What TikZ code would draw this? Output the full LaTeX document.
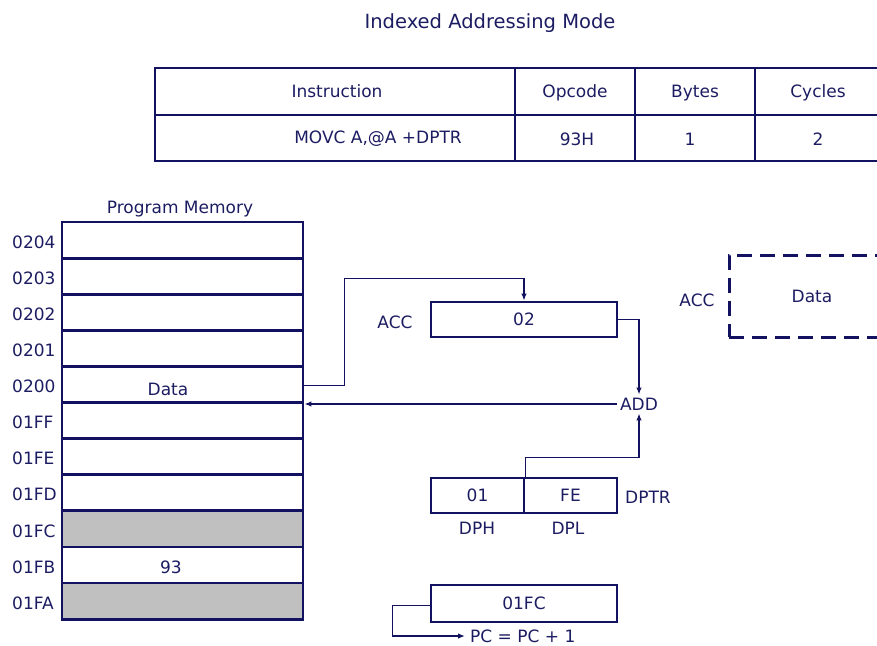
\documentclass[tikz,border=0pt]{standalone}
\usepackage{fontspec}
\setmainfont{DejaVu Sans}
\usetikzlibrary{arrows.meta,calc}
\definecolor{navy}{RGB}{18,18,96}
\definecolor{txt}{RGB}{28,28,98}
\definecolor{cellgray}{RGB}{192,192,192}
\begin{document}
\begin{tikzpicture}[x=1pt,y=-1pt,
  every node/.style={font=\fontsize{17}{20}\selectfont, text=txt, inner sep=0pt, text height=12.4pt, text depth=0pt},
  memcell/.style={draw=navy, line width=2.8pt, minimum width=241pt, minimum height=36.1pt},
  regbox/.style={draw=navy, line width=2.8pt, minimum height=35pt},
  tbl/.style={draw=navy, line width=2.8pt},
  conn/.style={draw=navy, line width=1.4pt, -{Latex[length=7pt,width=5.5pt]}}
]
\useasboundingbox (0,0) rectangle (877,645);
\clip (0,0) rectangle (877,645);

% title and table
\node (title) at (490,22) {\fontsize{19.5}{22}\selectfont Indexed Addressing Mode};
\draw[tbl] (155,68) rectangle (885,161);
\draw[tbl] (155,115) -- (885,115);
\foreach \xx in {515,635,755} \draw[tbl] (\xx,68) -- (\xx,161);
\node (hins) at (337,91) {Instruction};
\node (hop) at (575,91) {Opcode};
\node (hby) at (695,91) {Bytes};
\node (hcy) at (818,91) {Cycles};
\node (vins) at (378,137) {MOVC A,@A +DPTR};
\node (vop) at (577,139) {93H};
\node (vby) at (690,139) {1};
\node (vcy) at (818,139) {2};

% program memory
\node (pmtitle) at (180,207) {Program Memory};
\foreach \lab/\col [count=\i from 0] in {0204/white,0203/white,0202/white,0201/white,0200/white,01FF/white,01FE/white,01FD/white,01FC/cellgray,01FB/white,01FA/cellgray}{
  \pgfmathsetmacro\yc{222+36.1*(\i+0.5)}
  \node[memcell, fill=\col] (m\i) at (182.5,\yc) {};
  \node[anchor=west] (a\i) at (12,\yc+2) {\lab};
}
\node (dtext) at (168,389) {Data};
\node (t93) at (171,567) {93};

% ACC
\node[regbox, minimum width=186pt] (acc) at (524,319.5) {02};
\node (acclab) at (395,322) {ACC};
\node[inner sep=3pt] (add) at (639,404) {ADD};

% DPTR
\node[regbox, minimum width=93pt] (dph) at (477.5,495.5) {01};
\node[regbox, minimum width=93pt] (dpl) at (570.5,495.5) {FE};
\node[anchor=west] (dptr) at (625,497) {DPTR};
\node (dphlab) at (477,528) {DPH};
\node (dpllab) at (568,528) {DPL};

% PC
\node[regbox, minimum width=186pt, minimum height=37pt] (pc) at (524,603.5) {01FC};
\node[anchor=west] (pceq) at (470,636) {PC = PC + 1};

% result ACC
\node (acclab2) at (697,300) {ACC};
\node[draw=navy, line width=3pt, dash pattern=on 15pt off 8pt, minimum width=166pt, minimum height=82pt] (accd) at (812,296) {Data};

% connectors
\draw[conn] ([yshift=-1pt]m4.east) -- ++(40,0) |- ($(acc.north)+(0,-22)$) -- (acc.north);
\draw[conn] (acc.east) -| (add.north);
\draw[conn] (add.west) -- (add.west -| m4.east);
\draw[conn] (dph.north east) -- ++(0,-19) -| (add.south);
\draw[conn, shorten >=5pt] ([yshift=-2pt]pc.west) -- ++(-37,0) |- (pceq.west);
\end{tikzpicture}
\end{document}
